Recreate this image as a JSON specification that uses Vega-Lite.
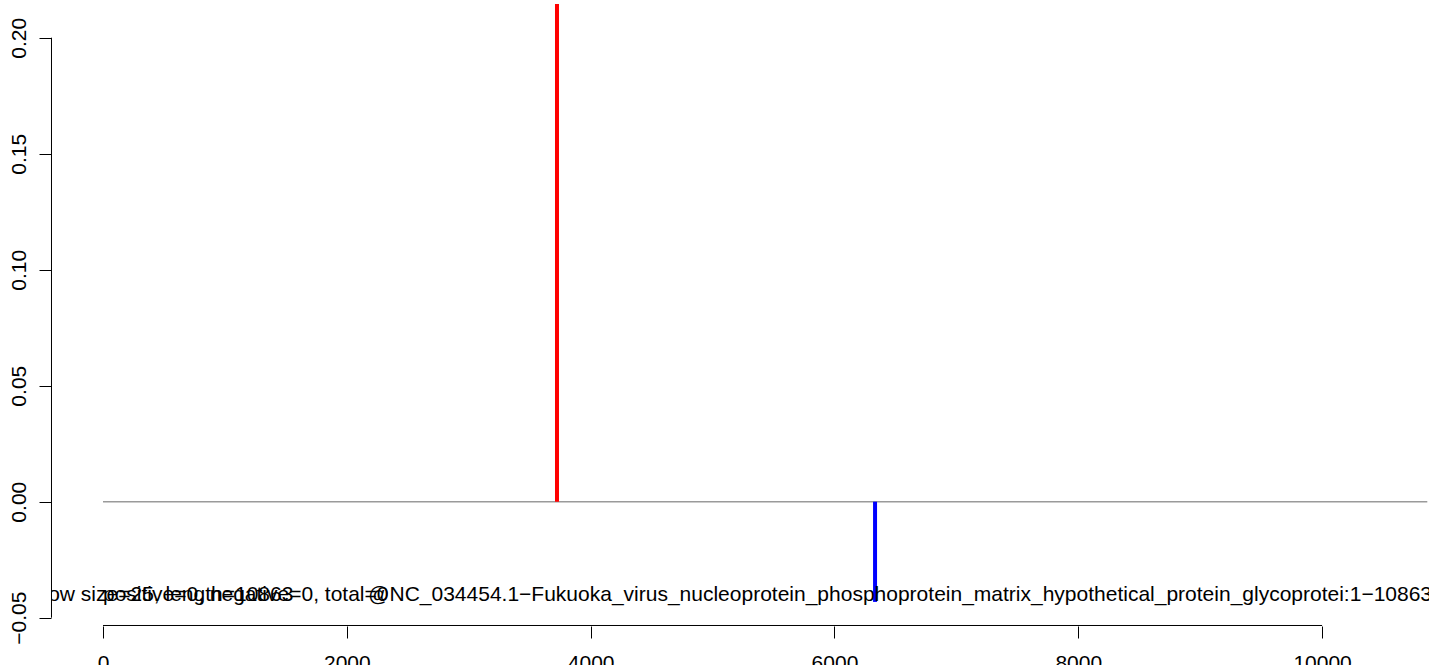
{
  "$schema": "https://vega.github.io/schema/vega-lite/v6.json",
  "width": 1378,
  "height": 622,
  "autosize": {"type": "none"},
  "padding": {"left": 51, "top": 4, "right": 0, "bottom": 39},
  "background": "white",
  "config": {
    "view": {"stroke": null},
    "font": "Liberation Sans",
    "axis": {"grid": false, "domain": false, "tickColor": "black", "tickWidth": 1, "tickSize": 12, "labelColor": "black", "labelFontSize": 21, "labelFont": "Liberation Sans", "title": null}
  },
  "datasets": {
    "baseline": [{"x": 0, "x2": 10863, "y": 0}],
    "axislines": [
      {"x": 0, "x2": 10000, "y": -0.05336, "y2": -0.05336},
      {"x": -422.5, "x2": -422.5, "y": -0.05, "y2": 0.2}
    ],
    "bars": [
      {"x": 3724, "y": 0.2145, "strand": "positive"},
      {"x": 6333, "y": -0.0432, "strand": "negative"}
    ],
    "leftText": [
      {"x": -804, "y": -0.0402, "label": "window size=25, length=10863"},
      {"x": 0, "y": -0.0402, "label": "positive=0, negative=0, total=0"}
    ],
    "rightText": [
      {"x": 10902, "y": -0.0402, "label": "@NC_034454.1−Fukuoka_virus_nucleoprotein_phosphoprotein_matrix_hypothetical_protein_glycoprotei:1−10863"}
    ]
  },
  "layer": [
    {
      "data": {"name": "baseline"},
      "mark": {"type": "rule", "color": "#9a9a9a", "strokeWidth": 1.5},
      "encoding": {
        "x": {"field": "x", "type": "quantitative", "scale": {"domain": [-426.6, 10877], "nice": false, "zero": false},
              "axis": {"title": null, "values": [0, 2000, 4000, 6000, 8000, 10000], "format": "d", "labelPadding": 14, "labelBaseline": "top", "labelFlush": false, "labelOverlap": false}},
        "x2": {"field": "x2"},
        "y": {"field": "y", "type": "quantitative", "scale": {"domain": [-0.05358, 0.21453], "nice": false, "zero": false},
              "axis": {"title": null, "values": [-0.05, 0, 0.05, 0.1, 0.15, 0.2], "format": ".2f", "labelAngle": -90, "labelAlign": "center", "labelBaseline": "alphabetic", "labelPadding": 14, "labelFlush": false, "labelOverlap": false}}
      }
    },
    {
      "data": {"name": "axislines"},
      "mark": {"type": "rule", "color": "black", "strokeWidth": 1},
      "encoding": {
        "x": {"field": "x", "type": "quantitative"},
        "x2": {"field": "x2"},
        "y": {"field": "y", "type": "quantitative"},
        "y2": {"field": "y2"}
      }
    },
    {
      "data": {"name": "bars"},
      "mark": {"type": "rule", "strokeWidth": 4, "clip": true},
      "encoding": {
        "x": {"field": "x", "type": "quantitative"},
        "y": {"field": "y", "type": "quantitative"},
        "y2": {"datum": 0},
        "color": {"field": "strand", "type": "nominal", "scale": {"domain": ["positive", "negative"], "range": ["#FF0000", "#0000FF"]}, "legend": null}
      }
    },
    {
      "data": {"name": "leftText"},
      "mark": {"type": "text", "align": "left", "baseline": "middle", "fontSize": 21, "color": "black", "clip": true},
      "encoding": {
        "x": {"field": "x", "type": "quantitative"},
        "y": {"field": "y", "type": "quantitative"},
        "text": {"field": "label"}
      }
    },
    {
      "data": {"name": "rightText"},
      "mark": {"type": "text", "align": "right", "baseline": "middle", "fontSize": 21, "color": "black", "clip": true},
      "encoding": {
        "x": {"field": "x", "type": "quantitative"},
        "y": {"field": "y", "type": "quantitative"},
        "text": {"field": "label"}
      }
    }
  ]
}
